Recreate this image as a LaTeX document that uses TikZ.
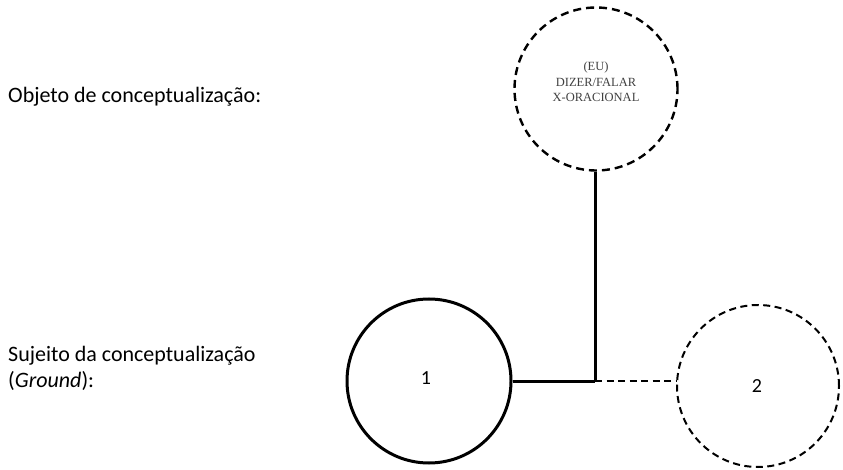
\documentclass[tikz,border=0pt]{standalone}
\usepackage{fontspec}
\setmainfont{Carlito}
\newfontfamily\serifx{Liberation Serif}
\begin{document}
\begin{tikzpicture}[x=1pt,y=-1pt,
  circ/.style={circle,draw,minimum size=#1,inner sep=0pt},
  solidc/.style={line width=3pt},
  dashc/.style={line width=2.4pt,dash pattern=on 8pt off 5pt},
  lab/.style={anchor=west,font=\fontsize{22}{26}\selectfont,align=left,inner sep=0pt}]
\useasboundingbox (0,0) rectangle (843,470);
\node[circ=163pt,dashc] (top) at (596,89) {};
\node[align=center,font=\serifx\fontsize{12.5}{15.5}\selectfont,text=black!75] (toptxt) at (596,82) {(EU)\\DIZER/FALAR\\X-ORACIONAL};
\node[circ=164pt,solidc] (one) at (429,381) {};
\node[font=\fontsize{20}{24}\selectfont] (onet) at (426,378) {1};
\node[circ=162pt,line width=2pt,dash pattern=on 7pt off 4.5pt] (two) at (758,386) {};
\node[font=\fontsize{20}{24}\selectfont] (twot) at (757,386) {2};
\coordinate (j) at (595,381);
\draw[solidc] (top.south -| j) -- (j);
\draw[solidc] (one.east) -- (j);
\draw[line width=2pt,dash pattern=on 7pt off 4.5pt] (j) -- (two.west |- j);
\node[lab] (obj) at (8,97) {Objeto de conceptualização:};
\node[lab] (suj) at (8,368) {Sujeito da conceptualização\\(\textit{Ground}):};
\end{tikzpicture}
\end{document}
